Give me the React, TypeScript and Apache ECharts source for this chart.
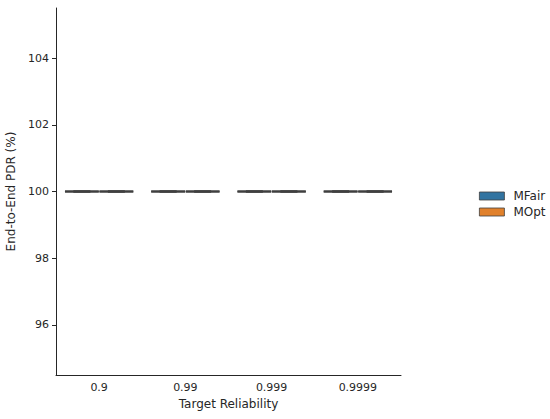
import React, { useEffect, useRef } from "react";
import * as echarts from "echarts";

const categories = ["0.9", "0.99", "0.999", "0.9999"];
// [min, Q1, median, Q3, max] per category
const mfair = [
  [100, 100, 100, 100, 100],
  [100, 100, 100, 100, 100],
  [100, 100, 100, 100, 100],
  [100, 100, 100, 100, 100],
];
const mopt = [
  [100, 100, 100, 100, 100],
  [100, 100, 100, 100, 100],
  [100, 100, 100, 100, 100],
  [100, 100, 100, 100, 100],
];
const seriesNames = ["MFair", "MOpt"];
const seriesColors = ["#3274a1", "#e1812c"];
const yTicks = [96, 98, 100, 102, 104];

const EDGE = "#3f3f3f";

export default function App() {
  const ref = useRef<HTMLDivElement>(null);
  useEffect(() => {
    const chart = echarts.init(ref.current!, null, { renderer: "svg" });
    const font = "DejaVu Sans";
    const nSeries = seriesNames.length;
    const makeRender = (si: number) => (params: any, api: any) => {
      const cat = api.value(0);
      const band = api.size([1, 0])[0];
      const total = band * 0.8;
      const w = total / nSeries;
      const cx = api.coord([cat, 0])[0] - total / 2 + w * si + w / 2;
      const half = (w * 0.98) / 2;
      const yMin = api.coord([cat, api.value(1)])[1];
      const yQ1 = api.coord([cat, api.value(2)])[1];
      const yMed = api.coord([cat, api.value(3)])[1];
      const yQ3 = api.coord([cat, api.value(4)])[1];
      const yMax = api.coord([cat, api.value(5)])[1];
      const lineStyle = { stroke: EDGE, lineWidth: 2 };
      return {
        type: "group",
        children: [
          {
            type: "rect",
            shape: { x: cx - half, y: yQ3, width: half * 2, height: yQ1 - yQ3 },
            style: { fill: seriesColors[si], stroke: EDGE, lineWidth: 2 },
          },
          { type: "line", shape: { x1: cx, y1: yQ1, x2: cx, y2: yMin }, style: lineStyle },
          { type: "line", shape: { x1: cx, y1: yQ3, x2: cx, y2: yMax }, style: lineStyle },
          { type: "line", shape: { x1: cx - half / 2, y1: yMin, x2: cx + half / 2, y2: yMin }, style: lineStyle },
          { type: "line", shape: { x1: cx - half / 2, y1: yMax, x2: cx + half / 2, y2: yMax }, style: lineStyle },
          { type: "line", shape: { x1: cx - half, y1: yMed, x2: cx + half, y2: yMed }, style: lineStyle },
        ],
      };
    };
    chart.setOption({
      animation: false,
      textStyle: { fontFamily: font },
      grid: { left: 56, top: 8, right: 149, bottom: 44, outerBoundsMode: "none", containLabel: false },
      legend: {
        orient: "vertical",
        left: 479,
        top: 190,
        padding: 0,
        itemWidth: 25,
        itemHeight: 8,
        itemGap: 4,
        icon: "rect",
        textStyle: { fontFamily: font, fontSize: 12, color: "#262626", padding: [0, 0, 0, 4] },
        data: seriesNames.map((n, i) => ({
          name: n,
          itemStyle: { color: seriesColors[i], borderColor: EDGE, borderWidth: 0.8 },
        })),
      },
      xAxis: {
        type: "category",
        data: categories,
        name: "Target Reliability",
        nameLocation: "middle",
        nameGap: 23,
        nameTextStyle: { fontFamily: font, fontSize: 12, color: "#262626" },
        axisLine: { lineStyle: { color: "#262626", width: 1 } },
        axisTick: { alignWithLabel: true, length: 4, lineStyle: { color: "#262626" } },
        axisLabel: { fontFamily: font, fontSize: 11, color: "#262626", margin: 7 },
        splitLine: { show: false },
      },
      yAxis: {
        type: "value",
        min: 94.5,
        max: 105.5,
        name: "End-to-End PDR (%)",
        nameLocation: "middle",
        nameRotate: 90,
        nameGap: 37,
        nameTextStyle: { fontFamily: font, fontSize: 12, color: "#262626" },
        axisLine: { show: true, lineStyle: { color: "#262626", width: 1 } },
        axisTick: { show: true, length: 4, lineStyle: { color: "#262626" }, customValues: yTicks },
        axisLabel: {
          fontFamily: font,
          fontSize: 11,
          color: "#262626",
          margin: 7,
          customValues: yTicks,
        },
        splitLine: { show: false },
      },
      series: [mfair, mopt].map((d, i) => ({
        type: "custom",
        name: seriesNames[i],
        itemStyle: { color: seriesColors[i] },
        encode: { x: 0, y: [1, 2, 3, 4, 5] },
        data: d.map((v, ci) => [ci, ...v]),
        renderItem: makeRender(i),
      })),
    });
    return () => chart.dispose();
  }, []);
  return <div ref={ref} style={{ width: 550, height: 419, position: "absolute", left: 0, top: 0 }} />;
}
